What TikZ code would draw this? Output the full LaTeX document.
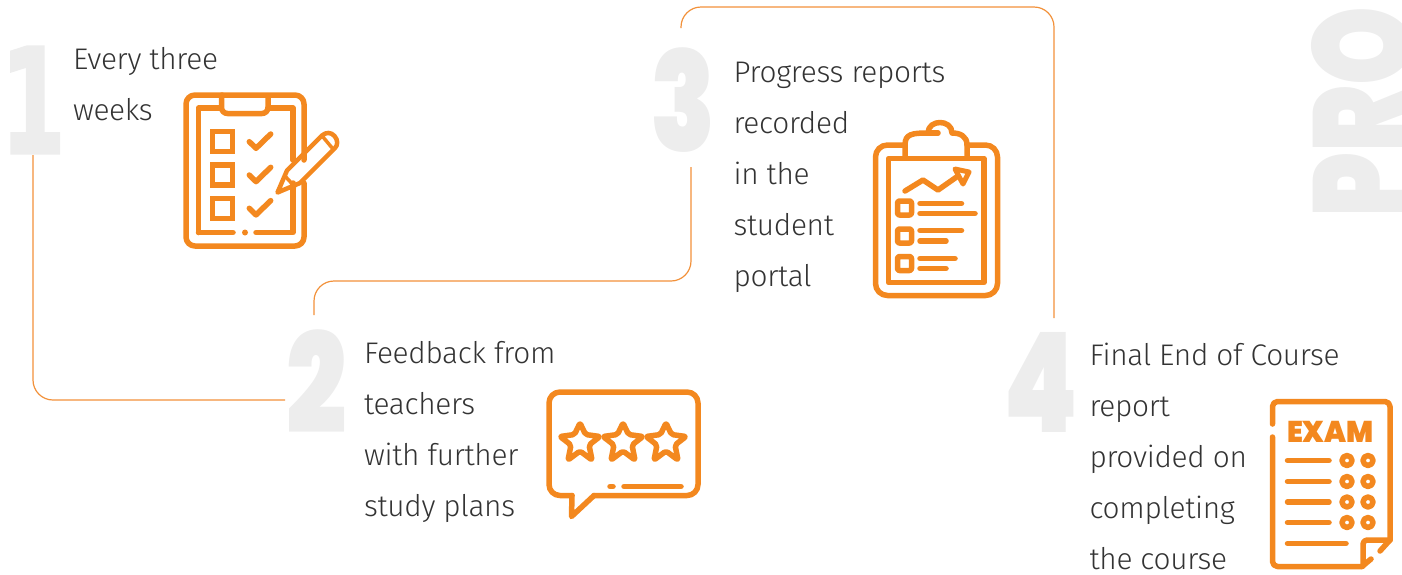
\documentclass[tikz,border=0pt]{standalone}
\usepackage{fontspec}
\usepackage{graphicx}
\setmainfont{Fira Sans Light}[LetterSpace=-1]
\newfontfamily\heavyfont{Poppins Black}
\newfontfamily\onefont{DejaVu Sans Bold}[FakeBold=2.5]
\usetikzlibrary{calc}
\definecolor{iconor}{HTML}{F3881F}
\definecolor{lineor}{HTML}{F2913A}
\definecolor{numgray}{HTML}{EDEDED}
\definecolor{txt}{HTML}{333333}
\tikzset{
  numnode/.style={inner sep=0pt,outer sep=0pt,text=numgray,font=\fontsize{139}{139}\heavyfont},
  onenode/.style={inner sep=0pt,outer sep=0pt,text=numgray,font=\fontsize{145}{145}\onefont},
  body/.style={inner sep=0pt,outer sep=0pt,anchor=north west,align=left,text=txt,font=\fontsize{29.8}{51}\selectfont},
  conn/.style={draw=lineor,line width=1.2pt,rounded corners=20pt},
  icon/.style={draw=iconor,line width=5.5pt,line cap=round,line join=round},
}
\newcommand{\digitbox}[1]{\scalebox{0.766}[1]{#1}}
\begin{document}
\begin{tikzpicture}[x=1pt,y=-1pt]
\useasboundingbox (0,0) rectangle (1402,574);
\clip (0,0) rectangle (1402,574);
% numbers
\node[onenode] (n1) at (33,100) {\scalebox{0.64}[1]{1}};
\node[numnode] (n2) at (316.5,382) {\digitbox{2}};
\node[numnode] (n3) at (683,100) {\digitbox{3}};
\node[numnode] (n4) at (1041,382) {\digitbox{4}};
\node[numnode,rotate=90,anchor=south west] (pro) at (1412,217.5) {\scalebox{0.72}[1]{PRO}};
% text
\node[body] (t1) at (73,47) {Every three\\weeks};
\node[body] (t2) at (364,341) {Feedback from\\teachers\\with further\\study plans};
\node[body] (t3) at (733.5,62) {Progress reports\\recorded\\in the\\student\\portal};
\node[body] (t4) at (1089.5,343) {Final End of Course\\report\\provided on\\completing\\the course};
% connectors
\coordinate (c1a) at (33,155);
\coordinate (c1b) at (285,400);
\coordinate (c2a) at (314,315);
\coordinate (c2m) at (691,281);
\coordinate (c2b) at (691,167);
\coordinate (c3a) at (681,28);
\coordinate (c3m) at (1054,7);
\coordinate (c3b) at (1054,318);
\draw[conn] (c1a) |- (c1b);
\draw[conn] (c2a) |- (c2m) -- (c2b);
\draw[conn] (c3a) |- (c3m) -- (c3b);
% icon 1
\begin{scope}[icon]
\draw[rounded corners=9pt] (222,95) -- (186,95) -- (186,246) -- (304,246) -- (304,183);
\draw[rounded corners=9pt] (304,160) -- (304,95) -- (222,95);
\draw (198.5,232.5) -- (198.5,108) -- (221,108);
\draw (268,108) -- (293,108) -- (293,160);
\draw (293,183) -- (293,232.5) -- (256,232.5);
\draw (198.5,232.5) -- (233,232.5);
\fill[iconor] (245,232.5) circle (3pt);
\draw[rounded corners=6pt] (221.5,97) -- (221.5,113.5) -- (268,113.5) -- (268,97);
\draw[line join=miter] (212.7,131.7) rectangle (232.7,151.7);
\draw[line join=miter] (212.7,165) rectangle (232.7,185);
\draw[line join=miter] (212.7,198.3) rectangle (232.7,218.3);
\draw (249.3,141.7) -- (256,148.3) -- (270.7,134);
\draw (249.3,175) -- (256,181.6) -- (270.7,167.3);
\draw (249.3,208.3) -- (256,214.9) -- (270.7,200.6);
\draw[line width=4.5pt] (277.5,192.5) -- (287,170.5) -- (322,135.5) .. controls (326,132) and (331,132) .. (334.5,136) .. controls (338,140) and (338,145) .. (335,148) -- (300,183) -- cycle;
\draw[line width=3.5pt] (285,176) -- (295,187);
\draw[line width=3.5pt] (323,137) -- (333,149);
\end{scope}
% icon 3
\begin{scope}[icon]
\draw[rounded corners=12pt] (905,145) -- (875.5,145) -- (875.5,295.5) -- (997.5,295.5) -- (997.5,145) -- (967,145);
\draw (888.5,158.5) rectangle (984,282.5);
\draw (905,158) -- (905,145) .. controls (905,134) and (912,133) .. (928,133) .. controls (928,119) and (952,119) .. (952,133) .. controls (960,133) and (967,136) .. (967,145) -- (967,158);
\draw (928,133) -- (938,133);
\draw (905,191) -- (923,180) -- (938,190) -- (958,176);
\draw[fill=white,line width=5pt] (955,169) -- (969,172) -- (963,184) -- cycle;
\draw[rounded corners=2pt] (897.5,201) rectangle (911.5,215);
\draw[rounded corners=2pt] (897.5,229) rectangle (911.5,243);
\draw[rounded corners=2pt] (897.5,256.5) rectangle (911.5,270.5);
\draw (920,203.5) -- (961.5,203.5);
\draw (920,213.5) -- (975,213.5);
\draw (920,230.5) -- (961.5,230.5);
\draw (920,241) -- (946,241);
\draw (920,258.5) -- (955,258.5);
\draw (920,268.5) -- (946,268.5);
\end{scope}
% icon 2
\begin{scope}[icon]
\draw[rounded corners=11pt] (572,495.5) -- (549,495.5) -- (549,392) -- (698,392) -- (698,495.5) -- (594,495.5);
\draw (572,495.5) -- (571.5,516.5) -- (594,495.5);
\foreach \cx in {580,623,666}{
  \draw[rounded corners=2pt] (\cx,423) -- (\cx+5.5,434.5) -- (\cx+20,436.5) -- (\cx+9,445) -- (\cx+12,460) -- (\cx,451) -- (\cx-12,460) -- (\cx-9,445) -- (\cx-20,436.5) -- (\cx-5.5,434.5) -- cycle;
}
\draw (610,486.5) -- (613,486.5);
\draw (624,486.5) -- (681,486.5);
\end{scope}
% icon 4
\begin{scope}[icon]
\draw[rounded corners=5pt] (1272.5,424) -- (1272.5,401.5) -- (1390,401.5) -- (1390,540);
\draw[rounded corners=5pt] (1272.5,437) -- (1272.5,566.5) -- (1362,566.5);
\draw (1362,566.5) -- (1371,559);
\draw (1390,540) -- (1380,551);
\draw[rounded corners=4pt] (1363,566) -- (1363,540) -- (1390,540);
\draw (1287.5,460.5) -- (1329,460.5);
\draw (1287.5,481.5) -- (1329,481.5);
\draw (1287.5,502) -- (1329,502);
\draw (1287.5,522.5) -- (1329,522.5);
\draw (1287.5,543.5) -- (1346,543.5);
\foreach \yy in {460.5,481.5,502,522.5}{
  \draw (1347,\yy) circle (5pt);
  \draw (1368,\yy) circle (5pt);
}
\end{scope}
\node[inner sep=0pt,text=iconor,font=\fontsize{30}{30}\heavyfont] (exam) at (1330.5,432) {\scalebox{0.95}[1]{EXAM}};
\end{tikzpicture}
\end{document}
